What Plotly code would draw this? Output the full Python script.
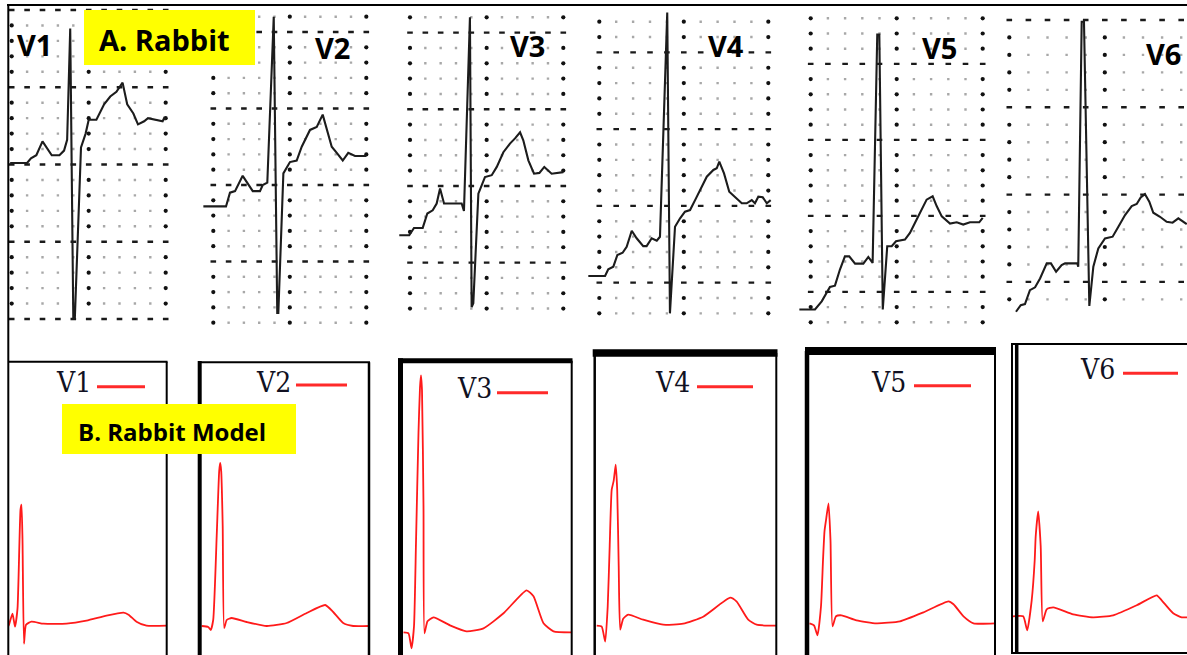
import numpy as np
import plotly.graph_objects as go

# ------------------------------------------------------------------
# (A) Recorded rabbit ECG, precordial leads V1..V6
#     x = time in small grid squares from the first grid column
#     y = amplitude in small grid squares above the lowest grid row
# ------------------------------------------------------------------
leads = ["V1", "V2", "V3", "V4", "V5", "V6"]

rabbit_v1_x = [-0.1, 1.0, 1.25, 1.6, 2.0, 2.6, 3.1, 3.4, 3.6, 3.8, 4.0, 4.1, 4.5, 4.8, 5.0,
               5.5, 6.0, 6.4, 6.8, 7.2, 7.5, 7.9, 8.2, 8.6, 8.85, 9.3, 9.8, 9.9, 10.0]
rabbit_v1_y = [10.1, 10.1, 10.4, 10.6, 11.5, 10.6, 10.6, 10.9, 11.6, 18.8, 0.05, 0.05, 11.1, 12.0, 12.9,
               12.9, 13.9, 14.4, 14.7, 15.3, 13.9, 13.3, 12.6, 12.8, 13.0, 12.9, 12.8, 13.0, 12.9]

rabbit_v2_x = [-0.65, 0.83, 1.09, 1.42, 1.92, 2.58, 3.05, 3.23, 3.53, 3.95, 4.18, 4.25, 4.58,
               5.01, 5.45, 5.78, 6.32, 6.76, 7.15, 7.41, 7.74, 8.07, 8.46, 8.82, 9.26, 10.0]
rabbit_v2_y = [7.6, 7.6, 8.5, 8.6, 9.6, 8.6, 8.6, 9.0, 9.15, 20.0, 0.63, 0.63, 9.76,
               10.5, 10.6, 11.5, 12.6, 12.8, 13.6, 12.6, 11.5, 11.1, 10.6, 11.1, 10.9, 10.9]

rabbit_v3_x = [-0.70, -0.05, 0.26, 0.83, 1.13, 1.48, 1.74, 1.96, 2.22, 3.37, 3.52, 3.91, 4.02, 4.13,
               4.46, 4.89, 5.33, 5.66, 6.09, 6.52, 6.85, 7.18, 7.39, 7.72, 8.09, 8.44, 8.76, 9.24, 10.0]
rabbit_v3_y = [4.78, 4.78, 5.26, 5.26, 6.2, 6.41, 6.85, 7.83, 6.85, 6.85, 6.37, 19.0, 0.1, 0.35,
               7.5, 8.58, 8.7, 9.24, 10.2, 10.76, 11.1, 11.5, 10.98, 9.67, 8.8, 8.85, 9.24, 8.8, 8.9]

rabbit_v4_x = [-0.65, 0.34, 0.53, 0.83, 1.07, 1.38, 1.62, 1.92, 2.21, 2.6, 2.8, 3.1, 3.4, 3.59, 4.02,
               4.18, 4.48, 4.78, 5.07, 5.37, 5.72, 6.0, 6.36, 6.75, 6.95, 7.1, 7.38, 7.69, 8.03,
               8.43, 8.72, 9.02, 9.21, 9.41, 9.67, 9.91, 10.14]
rabbit_v4_y = [2.43, 2.43, 2.87, 3.04, 3.8, 3.95, 4.34, 5.38, 4.89, 4.38, 4.38, 4.89, 4.73, 4.99, 19.6,
               0.0, 5.64, 6.19, 6.62, 6.73, 7.49, 8.14, 8.9, 9.34, 9.45, 9.88, 9.12, 7.92, 7.6,
               7.17, 7.17, 7.38, 7.17, 7.6, 7.56, 7.17, 7.38]

rabbit_v5_x = [-0.66, 0.25, 0.64, 0.93, 1.12, 1.41, 1.7, 1.99, 2.24, 2.58, 3.06, 3.35, 3.6, 3.87,
               3.99, 4.19, 4.45, 4.71, 4.96, 5.48, 5.77, 6.16, 6.45, 6.74, 7.09, 7.33, 7.62, 8.1,
               8.49, 8.87, 9.26, 9.8, 10.0]
rabbit_v5_y = [0.84, 0.84, 1.38, 1.93, 2.33, 2.41, 3.47, 4.34, 4.34, 3.86, 3.86, 4.3, 3.91, 18.93,
               18.93, 0.84, 5.0, 5.0, 5.33, 5.44, 5.88, 6.76, 7.41, 8.07, 8.29, 7.63, 6.97, 6.49,
               6.58, 6.43, 6.58, 6.58, 6.87]

rabbit_v6_x = [0.35, 0.6, 0.82, 1.08, 1.35, 1.61, 1.96, 2.18, 2.45, 2.74, 2.92, 3.56, 3.61, 3.79,
               3.91, 4.19, 4.4, 4.66, 5.01, 5.41, 5.71, 6.06, 6.41, 6.67, 6.88, 7.1, 7.33, 7.54,
               7.89, 8.24, 8.55, 8.85, 9.29]
rabbit_v6_y = [-0.71, -0.33, -0.27, 0.53, 0.69, 1.2, 2.06, 2.06, 1.58, 1.96, 2.06, 2.06, 1.87, 15.9,
               15.9, -0.38, 1.87, 2.92, 3.49, 3.59, 4.16, 4.83, 5.34, 5.46, 5.84, 6.03, 5.59, 4.96,
               4.73, 4.44, 4.39, 4.64, 4.31]

# ------------------------------------------------------------------
# (B) Rabbit model, simulated precordial leads: t in ms, v in mV
# ------------------------------------------------------------------
model_v1_t = [0, 2, 9, 14, 19, 25, 27, 29, 32, 36, 47, 71, 117, 157, 197, 231, 241, 257, 277, 318]
model_v1_v = [-0.01, 0.01, 0.12, -0.01, 0.17, 1.16, 1.21, 0.86, -0.18, 0.01, 0.04, 0.02, 0.02,
              0.05, 0.10, 0.13, 0.11, 0.04, 0.0, 0.0]

model_v2_t = [4, 17, 22, 27, 34, 39, 41, 43, 46, 49, 54, 64, 94, 134, 174, 214, 251, 267, 287, 307, 339]
model_v2_v = [0.0, -0.01, -0.04, 0.06, 0.9, 1.55, 1.63, 1.55, 1.0, -0.02, 0.06, 0.08, 0.04, 0.0,
              0.03, 0.13, 0.21, 0.14, 0.03, 0.0, 0.0]

model_v3_t = [6, 16, 22, 27, 31, 36, 39, 41, 43, 46, 48, 54, 66, 99, 132, 166, 206, 252, 266, 286, 306, 341]
model_v3_v = [0.0, -0.01, -0.16, 0.06, 0.9, 2.0, 2.45, 2.57, 2.42, 1.26, -0.01, 0.11, 0.15, 0.07,
              0.01, 0.04, 0.19, 0.42, 0.36, 0.09, 0.01, 0.0]

model_v4_t = [4, 14, 21, 26, 30, 34, 38, 42, 45, 48, 51, 57, 67, 97, 137, 177, 217, 271, 284, 307, 324, 364]
model_v4_v = [0.0, -0.01, -0.16, 0.19, 0.8, 1.36, 1.45, 1.61, 1.36, 0.6, -0.04, 0.07, 0.11, 0.06,
              0.01, 0.02, 0.09, 0.28, 0.24, 0.06, 0.01, 0.0]

model_v5_t = [5, 14, 21, 28, 32, 35, 38, 43, 47, 51, 58, 69, 99, 139, 186, 233, 283, 293, 313, 333, 376]
model_v5_v = [0.0, -0.02, -0.12, 0.17, 0.63, 0.92, 1.03, 1.2, 0.83, -0.03, 0.07, 0.08, 0.03, 0.0,
              0.02, 0.11, 0.22, 0.19, 0.07, 0.0, 0.0]

model_v6_t = [2, 23, 31, 40, 46, 48, 53, 58, 62, 70, 83, 123, 163, 203, 250, 290, 300, 323, 340, 351]
model_v6_v = [0.01, 0.01, -0.13, 0.17, 0.57, 0.81, 1.06, 0.71, -0.04, 0.08, 0.10, 0.03, 0.0, 0.02,
              0.12, 0.22, 0.17, 0.04, 0.0, 0.0]

rabbit_series = [(rabbit_v1_x, rabbit_v1_y), (rabbit_v2_x, rabbit_v2_y), (rabbit_v3_x, rabbit_v3_y),
                 (rabbit_v4_x, rabbit_v4_y), (rabbit_v5_x, rabbit_v5_y), (rabbit_v6_x, rabbit_v6_y)]
model_series = [(model_v1_t, model_v1_v), (model_v2_t, model_v2_v), (model_v3_t, model_v3_v),
                (model_v4_t, model_v4_v), (model_v5_t, model_v5_v), (model_v6_t, model_v6_v)]

# ------------------------------------------------------------------
# Layout geometry (pixels of the 1187 x 655 page)
# ------------------------------------------------------------------
W, H = 1187, 655

# top panels: first grid column x, col spacing, n cols, first grid row y, row spacing, n rows, major rows
top_geom = [
    (11.7, 15.4, 11, 10.0, 15.45, 21, (0, 5, 10, 15, 20)),
    (213.3, 15.3, 11, 16.7, 15.3, 21, (1, 6, 11, 16)),
    (410.0, 15.33, 11, 17.3, 15.33, 20, (1, 6, 11, 16)),
    (599.3, 16.9, 11, 21.7, 15.35, 20, (2, 7, 12, 17)),
    (810.7, 17.2, 11, 18.3, 15.2, 21, (3, 8, 13, 18)),
    (1009.3, 19.1, 10, 20.0, 17.46, 17, (0, 5, 10, 15)),
]
top_label_pos = [(34, 44), (332, 47), (527.5, 46), (725.5, 45), (939.7, 47), (1163.7, 53)]

# bottom panels: box left, box right, box top, baseline y
bot_geom = [
    (8.0, 166.7, 363, 625.7),
    (199.7, 369.0, 364, 626.0),
    (400.5, 571.7, 364, 632.3),
    (594.7, 776.3, 357, 625.7),
    (807.0, 995.0, 356, 623.3),
    (1011.7, 1187.0, 345, 617.3),
]
legend_text_pos = [(73, 383), (273, 383), (474, 388), (672.5, 382), (888.5, 382), (1097, 369)]
legend_line_pos = [(97, 145, 386.7), (296, 347, 385), (497, 548, 392.7),
                   (697, 753, 386.7), (914, 971, 385.7), (1123, 1178, 373.3)]

MS_PER_PX = 2.0
MV_PER_PX = 0.01


def pxx(x):
    return x / W


def pxy(y):
    return 1 - y / H


fig = go.Figure()
layout_axes = {}


def axid(k):
    return "" if k == 1 else str(k)


# ---- top row: recorded ECG on dotted grid paper ----
for i, (x0, sx, nc, yt, sy, nr, majr) in enumerate(top_geom):
    k = i + 1
    a = axid(k)
    yb = yt + (nr - 1) * sy
    xr = x0 + (nc - 1) * sx
    L = max(x0 - sx, 0)
    R = min(xr + sx, W)
    T = max(yt - sy, 0)
    B = yb + sy
    layout_axes["xaxis" + a] = dict(domain=[pxx(L), pxx(R)], range=[(L - x0) / sx, (R - x0) / sx],
                                    visible=False, anchor="y" + a, fixedrange=True)
    layout_axes["yaxis" + a] = dict(domain=[pxy(B), pxy(T)], range=[(yb - B) / sy, (yb - T) / sy],
                                    visible=False, anchor="x" + a, fixedrange=True)

    cc, rr = np.meshgrid(np.arange(nc), np.arange(nr))
    cc = cc.ravel()
    rr = rr.ravel()
    is_mc = (cc % 5) == 0
    is_mr = np.isin(rr, majr)
    gy = (nr - 1) - rr
    minor = ~is_mc & ~is_mr
    rowdots = is_mr
    coldots = is_mc & ~is_mr
    fig.add_trace(go.Scatter(x=cc[minor], y=gy[minor], mode="markers",
                             marker=dict(symbol="square", size=2.4, color="#a8a8a8"),
                             xaxis="x" + a, yaxis="y" + a, hoverinfo="skip"))
    fig.add_trace(go.Scatter(x=cc[coldots], y=gy[coldots], mode="markers",
                             marker=dict(symbol="circle", size=4.2, color="#111111"),
                             xaxis="x" + a, yaxis="y" + a, hoverinfo="skip"))
    fig.add_trace(go.Scatter(x=cc[rowdots], y=gy[rowdots], mode="markers",
                             marker=dict(symbol="line-ew", size=4,
                                         line=dict(width=2.4, color="#1a1a1a")),
                             xaxis="x" + a, yaxis="y" + a, hoverinfo="skip"))
    xs, ys = rabbit_series[i]
    fig.add_trace(go.Scatter(x=xs, y=ys, mode="lines", name=leads[i],
                             line=dict(color="#1c1c1c", width=2.1),
                             xaxis="x" + a, yaxis="y" + a))

# ---- bottom row: rabbit model ----
for i, (L, R, T, base) in enumerate(bot_geom):
    k = i + 7
    a = axid(k)
    B = H
    layout_axes["xaxis" + a] = dict(domain=[pxx(L), pxx(R)], range=[0, (R - L) * MS_PER_PX],
                                    visible=False, anchor="y" + a, fixedrange=True)
    layout_axes["yaxis" + a] = dict(domain=[pxy(B), pxy(T)],
                                    range=[(base - B) * MV_PER_PX, (base - T) * MV_PER_PX],
                                    visible=False, anchor="x" + a, fixedrange=True)
    ts, vs = model_series[i]
    fig.add_trace(go.Scatter(x=ts, y=vs, mode="lines", name=leads[i],
                             line=dict(color="#ff1a1a", width=1.8, shape="spline", smoothing=0.5),
                             xaxis="x" + a, yaxis="y" + a))

# ---- frames / boxes ----
border_lines = [
    (7, 5, W, 5, 2), (8.3, 5, 8.3, H, 2),
    (8, 361.7, 167.5, 361.7, 2), (166.7, 361.7, 166.7, H, 2),
    (199.7, 361, 199.7, H, 4), (198, 362.3, 370, 362.3, 2), (369, 362.3, 369, H, 2.5),
    (400.5, 358.3, 400.5, H, 5), (398, 360.8, 572.5, 360.8, 5), (571.7, 360.8, 571.7, H, 2),
    (592.7, 353, 777.5, 353, 7.5), (594.7, 353, 594.7, H, 2.5), (776.3, 353, 776.3, H, 2),
    (805, 351, 996, 351, 8), (807, 351, 807, H, 4.5), (995, 351, 995, H, 2),
    (1011, 344, W, 344, 2), (1012, 344, 1012, 653, 2), (1016.7, 344, 1016.7, 653, 3.5),
    (1011, 653, W, 653, 2),
]
shapes = []
for (xa, ya, xb, yb, w) in border_lines:
    shapes.append(dict(type="line", xref="paper", yref="paper",
                       x0=pxx(xa), y0=pxy(ya), x1=pxx(xb), y1=pxy(yb),
                       line=dict(color="#000000", width=w), layer="above"))

for (xa, xb, yl) in legend_line_pos:
    shapes.append(dict(type="line", xref="paper", yref="paper",
                       x0=pxx(xa), y0=pxy(yl), x1=pxx(xb), y1=pxy(yl),
                       line=dict(color="#ff2a2a", width=3), layer="above"))

# yellow title boxes
for (xa, ya, xb, yb) in [(84, 10, 255, 65), (62, 404, 296, 454)]:
    shapes.append(dict(type="rect", xref="paper", yref="paper",
                       x0=pxx(xa), y0=pxy(yb), x1=pxx(xb), y1=pxy(ya),
                       fillcolor="#ffff00", line=dict(width=0), layer="above"))

annotations = []
for i, (lx, ly) in enumerate(top_label_pos):
    annotations.append(dict(text="<b>%s</b>" % leads[i], x=pxx(lx), y=pxy(ly), xref="paper", yref="paper",
                            xanchor="center", yanchor="middle", showarrow=False,
                            font=dict(family="Open Sans", size=29, color="#000000")))
for i, (lx, ly) in enumerate(legend_text_pos):
    annotations.append(dict(text=leads[i], x=pxx(lx), y=pxy(ly), xref="paper", yref="paper",
                            xanchor="center", yanchor="middle", showarrow=False,
                            font=dict(family="DejaVu Serif Condensed, Liberation Serif, serif",
                                      size=28, color="#111122")))
annotations.append(dict(text="<b>A. Rabbit</b>", x=pxx(97), y=pxy(39), xref="paper", yref="paper",
                        xanchor="left", yanchor="middle", showarrow=False,
                        font=dict(family="Open Sans", size=29, color="#000000")))
annotations.append(dict(text="<b>B. Rabbit Model</b>", x=pxx(76), y=pxy(431), xref="paper", yref="paper",
                        xanchor="left", yanchor="middle", showarrow=False,
                        font=dict(family="Open Sans", size=24, color="#000000")))

fig.update_layout(
    width=W, height=H,
    margin=dict(l=0, r=0, t=0, b=0),
    paper_bgcolor="#ffffff", plot_bgcolor="rgba(0,0,0,0)",
    showlegend=False,
    shapes=shapes,
    annotations=annotations,
    **layout_axes,
)

fig.write_html("out.html", config={"displayModeBar": False},
               post_script="document.body.style.margin='0px';document.body.style.overflow='hidden';")
